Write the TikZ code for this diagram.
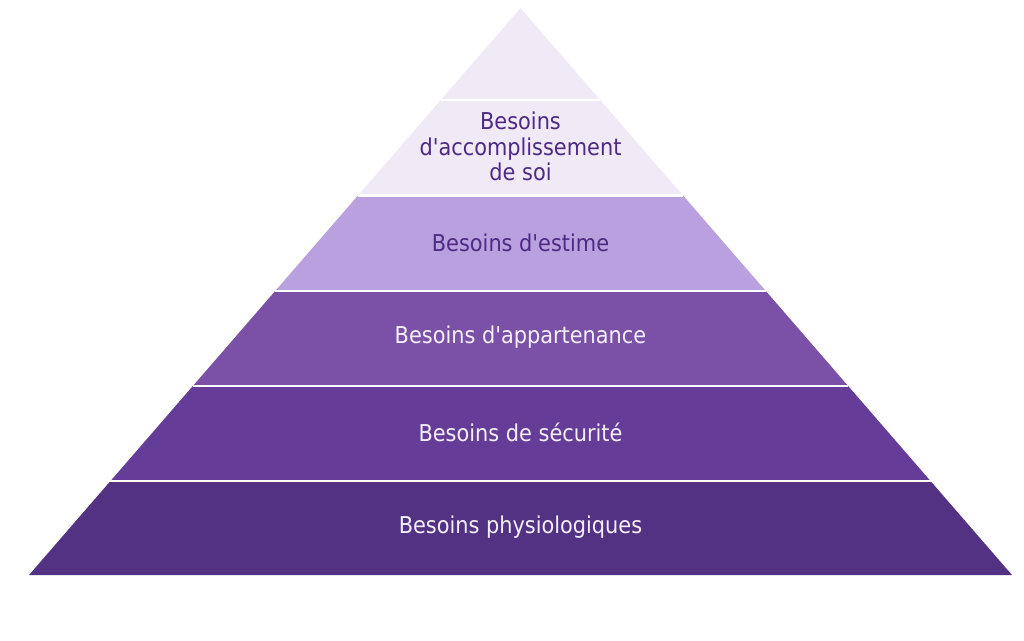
\documentclass[tikz,border=0pt]{standalone}
\usepackage{fontspec}
\usetikzlibrary{positioning}
\newfontfamily\lblfont{DejaVu Sans Condensed}
\definecolor{lvlTop}{HTML}{F0EAF7}
\definecolor{lvlEst}{HTML}{B9A0DE}
\definecolor{lvlApp}{HTML}{7B51A8}
\definecolor{lvlSec}{HTML}{653D99}
\definecolor{lvlPhy}{HTML}{533284}
\definecolor{txtDark}{HTML}{4E2A84}
\definecolor{txtLight}{HTML}{F4EFF9}
\tikzset{sep/.style={draw=white, line width=1.6pt}}
\tikzset{lbl/.style={font=\lblfont\fontsize{16.5}{18.2}\selectfont, align=center, text=txtLight, inner sep=0pt}}

\begin{document}
\begin{tikzpicture}[x=0.025cm, y=-0.025cm]
	\useasboundingbox (0,0) rectangle (1024,640);
	% layers, apex (y=8) to base (y=575)
	\foreach \ya/\yb/\col in {8/100/lvlTop,100/195.5/lvlTop,195.5/291/lvlEst,291/386/lvlApp,386/481/lvlSec,481/575/lvlPhy}{
		\pgfmathsetmacro\wa{0.86684*(\ya-8)}
		\pgfmathsetmacro\wb{0.86684*(\yb-8)}
		\fill[\col] (520.5-\wa,\ya) -- (520.5+\wa,\ya) -- (520.5+\wb,\yb) -- (520.5-\wb,\yb) -- cycle;
	}
	% white separators
	\foreach \y in {100,195.5,291,386,481}{
		\pgfmathsetmacro\w{0.86684*(\y-8)}
		\draw[sep] (520.5-\w,\y) -- (520.5+\w,\y);
	}
	
	\node[lbl, text=txtDark] (self) at (520.5,146.5) {Besoins\\d'accomplissement\\de soi};
	\node[lbl, text=txtDark] (esteem) at (520.5,242.5) {Besoins d'estime};
	\node[lbl] (belong) at (520.5,337.5) {Besoins d'appartenance};
	\node[lbl] (safety) at (520.5,432.5) {Besoins de sécurité};
	\node[lbl] (physio) at (520.5,527.5) {Besoins physiologiques};
\end{tikzpicture}
\end{document}
